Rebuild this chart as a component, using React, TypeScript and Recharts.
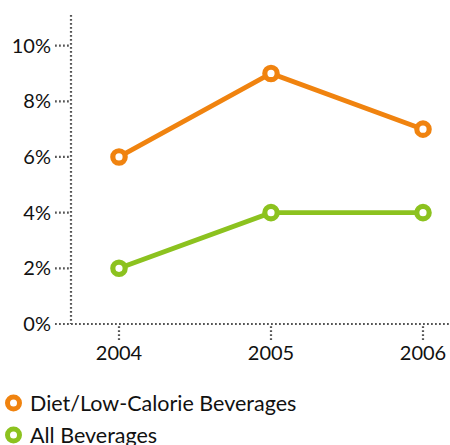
import { LineChart, Line, XAxis, YAxis } from 'recharts';

const YEARS = ['2004', '2005', '2006'];
const DIET_VALUES = [6, 9, 7];
const ALL_VALUES = [2, 4, 4];
const Y_TICKS = [0, 2, 4, 6, 8, 10];

const SERIES = [
  { key: 'diet', name: 'Diet/Low-Calorie Beverages', color: '#f0830f' },
  { key: 'all', name: 'All Beverages', color: '#8cc21f' },
];

const data = YEARS.map((year, i) => ({
  year,
  diet: DIET_VALUES[i],
  all: ALL_VALUES[i],
}));

const FONT = 'Lato, "Noto Sans", sans-serif';
const DOTTED = { stroke: '#555', strokeWidth: 2.2, strokeDasharray: '1.8 2.2' };

export default function App() {
  return (
    <div style={{ position: 'absolute', left: 0, top: 0, width: 450, height: 445, background: '#fff', fontFamily: FONT }}>
      <LineChart width={450} height={388} data={data} margin={{ top: 15, right: 0, left: 0, bottom: 0 }}>
        <XAxis
          dataKey="year"
          height={64}
          padding={{ left: 48, right: 27 }}
          axisLine={DOTTED}
          tickLine={DOTTED}
          tickSize={16}
          tickMargin={6}
          tick={{ fontSize: 20, fill: '#111', fontFamily: FONT }}
        />
        <YAxis
          width={71}
          domain={[0, 11.1]}
          ticks={Y_TICKS}
          tickFormatter={(v) => `${v}%`}
          axisLine={DOTTED}
          tickLine={DOTTED}
          tickSize={16}
          tickMargin={4}
          tick={{ fontSize: 20, fill: '#111', fontFamily: FONT }}
        />
        {SERIES.map((s) => (
          <Line
            key={s.key}
            dataKey={s.key}
            name={s.name}
            stroke={s.color}
            strokeWidth={4.8}
            dot={{ r: 6.2, strokeWidth: 5.2, fill: '#fff', stroke: s.color }}
            activeDot={false}
            isAnimationActive={false}
          />
        ))}
      </LineChart>
      <div style={{ position: 'absolute', left: 0, top: 387 }}>
        {SERIES.map((s) => (
          <div key={s.key} style={{ display: 'flex', alignItems: 'center', height: 32, fontSize: 21.5, color: '#111', whiteSpace: 'nowrap' }}>
            <svg width={30} height={32} style={{ flex: 'none' }}>
              <circle cx={13.5} cy={16} r={6} fill="#fff" stroke={s.color} strokeWidth={5} />
            </svg>
            <span style={{ lineHeight: '32px' }}>{s.name}</span>
          </div>
        ))}
      </div>
    </div>
  );
}
